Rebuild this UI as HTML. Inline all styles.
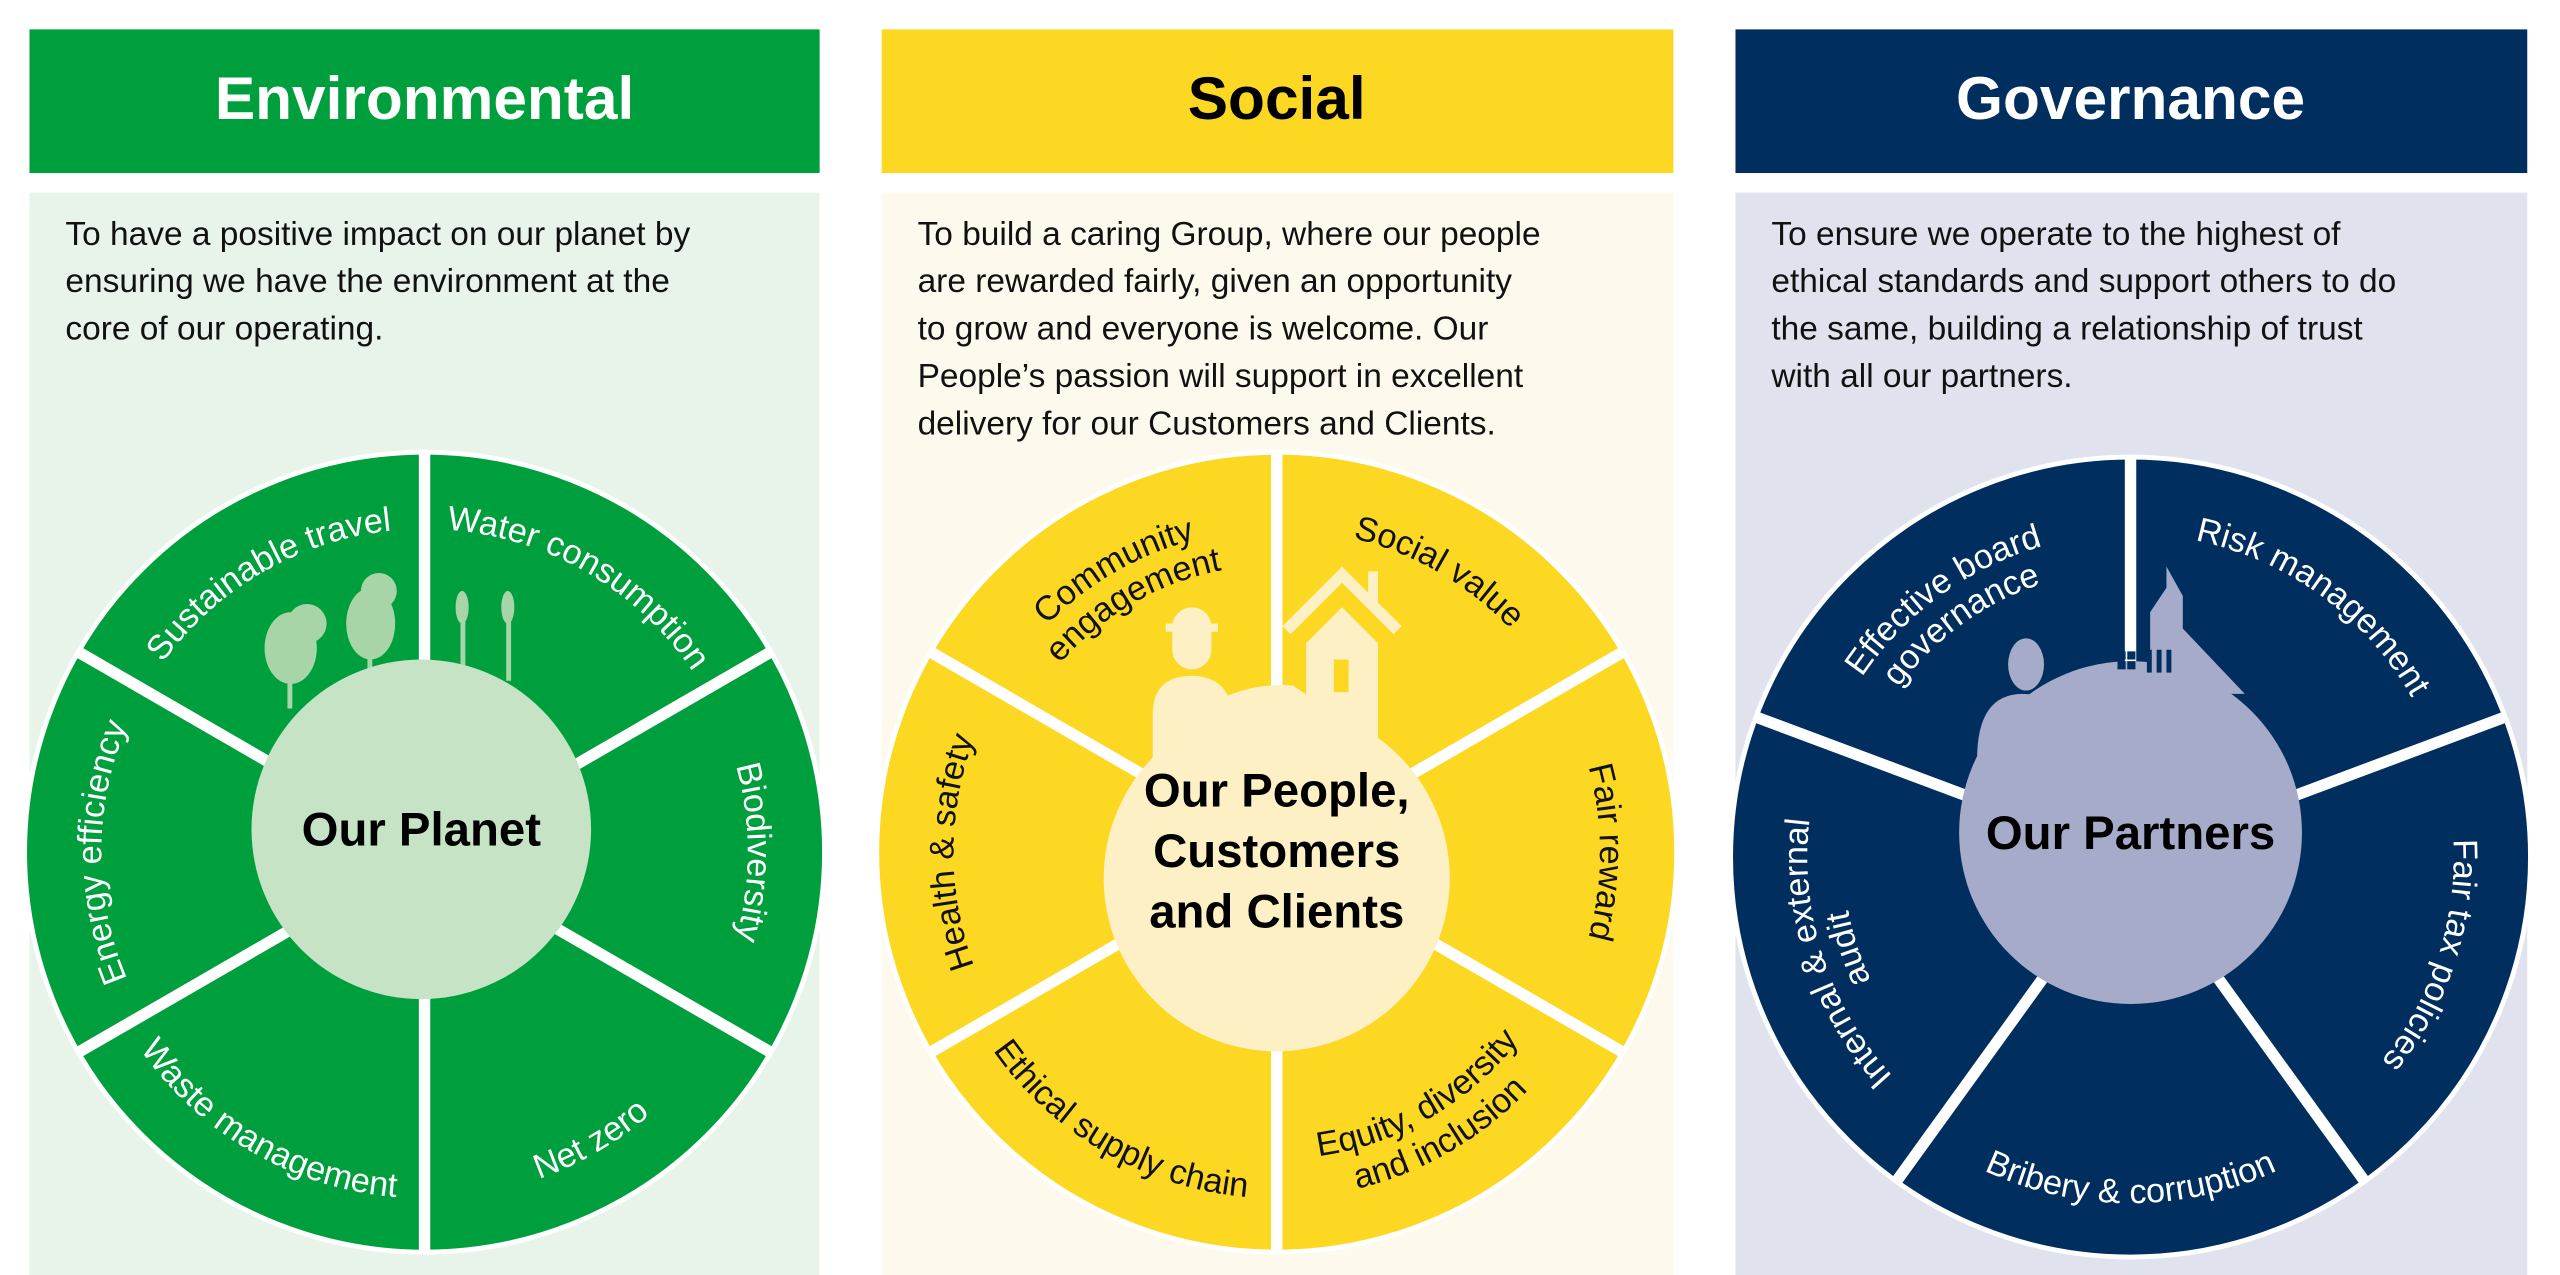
<!DOCTYPE html>
<html><head><meta charset="utf-8"><style>
html,body{margin:0;padding:0;background:#fff;width:2560px;height:1275px;overflow:hidden}
svg{display:block}
text{font-family:"Liberation Sans",sans-serif}
</style></head><body>
<svg width="2560" height="1275" viewBox="0 0 1568 781" xmlns="http://www.w3.org/2000/svg">
<defs>
<path id="cw198" d="M -140 -140 A 198 198 0 0 1 140 -140"/>
<path id="cw176" d="M -124.45 -124.45 A 176 176 0 0 1 124.45 -124.45"/>
<path id="ccw212" d="M -149.9 149.9 A 212 212 0 0 0 149.9 149.9"/>
<path id="ccw188" d="M -132.9 132.9 A 188 188 0 0 0 132.9 132.9"/>
</defs>
<rect x="18" y="18" width="484" height="88" fill="#009f3d"/>
<rect x="540" y="18" width="485" height="88" fill="#fdd823"/>
<rect x="1063" y="18" width="485" height="88" fill="#002e5f"/>
<text x="260" y="73" text-anchor="middle" font-size="37" font-weight="bold" fill="#fff">Environmental</text>
<text x="782" y="73" text-anchor="middle" font-size="37" font-weight="bold" fill="#000">Social</text>
<text x="1305" y="73" text-anchor="middle" font-size="37" font-weight="bold" fill="#fff">Governance</text>
<rect x="18" y="118" width="484" height="663" fill="#e8f3ea"/>
<rect x="540" y="118" width="485" height="663" fill="#fdf9ec"/>
<rect x="1063" y="118" width="485" height="663" fill="#e0e3ee"/>
<g font-size="20.5" fill="#111">
<text x="40" y="150">To have a positive impact on our planet by</text>
<text x="40" y="179">ensuring we have the environment at the</text>
<text x="40" y="208">core of our operating.</text>
<text x="562" y="150">To build a caring Group, where our people</text>
<text x="562" y="179">are rewarded fairly, given an opportunity</text>
<text x="562" y="208">to grow and everyone is welcome. Our</text>
<text x="562" y="237">People’s passion will support in excellent</text>
<text x="562" y="266">delivery for our Customers and Clients.</text>
<text x="1085" y="150">To ensure we operate to the highest of</text>
<text x="1085" y="179">ethical standards and support others to do</text>
<text x="1085" y="208">the same, building a relationship of trust</text>
<text x="1085" y="237">with all our partners.</text>
</g>

<!-- ENV -->
<g transform="translate(260,522)">
<circle r="245" fill="#009f3d" stroke="#fff" stroke-width="3"/>
<g stroke="#fff" stroke-width="7">
<line x1="0" y1="0" x2="0" y2="-244"/>
<line x1="0" y1="0" x2="211" y2="-122"/>
<line x1="0" y1="0" x2="211" y2="122"/>
<line x1="0" y1="0" x2="0" y2="244"/>
<line x1="0" y1="0" x2="-211" y2="122"/>
<line x1="0" y1="0" x2="-211" y2="-122"/>
</g>
<g fill="#a8d5a8">
<ellipse cx="-82" cy="-125" rx="16" ry="22"/><ellipse cx="-72" cy="-140" rx="12" ry="12"/><rect x="-84" y="-110" width="3" height="22"/>
<ellipse cx="-33" cy="-140" rx="15" ry="22"/><ellipse cx="-28" cy="-160" rx="11" ry="11"/><rect x="-35" y="-125" width="3" height="30"/>
<rect x="22" y="-150" width="3" height="45"/><ellipse cx="23" cy="-150" rx="4" ry="10"/>
<rect x="50" y="-150" width="3" height="45"/><ellipse cx="51" cy="-150" rx="4" ry="10"/>
</g>
<g font-size="21" fill="#fff" text-anchor="middle">
<text transform="rotate(-30)"><textPath href="#cw198" startOffset="50%">Sustainable travel</textPath></text>
<text transform="rotate(30)"><textPath href="#cw198" startOffset="50%">Water consumption</textPath></text>
<text transform="rotate(90)"><textPath href="#cw198" startOffset="50%">Biodiversity</textPath></text>
<text transform="rotate(270)"><textPath href="#cw198" startOffset="50%">Energy efficiency</textPath></text>
<text transform="rotate(-30)"><textPath href="#ccw212" startOffset="50%">Net zero</textPath></text>
<text transform="rotate(30)"><textPath href="#ccw212" startOffset="50%">Waste management</textPath></text>
</g>
<circle cx="-2" cy="-14" r="104" fill="#c6e3c6"/>
<text x="-2" y="-4" text-anchor="middle" font-size="29" font-weight="bold" fill="#000">Our Planet</text>
</g>

<!-- SOCIAL -->
<g transform="translate(782,522)">
<circle r="245" fill="#fdd823" stroke="#fff" stroke-width="3"/>
<g stroke="#fff" stroke-width="7">
<line x1="0" y1="0" x2="0" y2="-244"/>
<line x1="0" y1="0" x2="211" y2="-122"/>
<line x1="0" y1="0" x2="211" y2="122"/>
<line x1="0" y1="0" x2="0" y2="244"/>
<line x1="0" y1="0" x2="-211" y2="122"/>
<line x1="0" y1="0" x2="-211" y2="-122"/>
</g>
<g font-size="21" fill="#111" text-anchor="middle">
<text transform="rotate(-30)"><textPath href="#cw198" startOffset="50%">Community</textPath></text>
<text transform="rotate(-30)"><textPath href="#cw176" startOffset="50%">engagement</textPath></text>
<text transform="rotate(30)"><textPath href="#cw198" startOffset="50%">Social value</textPath></text>
<text transform="rotate(90)"><textPath href="#cw198" startOffset="50%">Fair reward</textPath></text>
<text transform="rotate(270)"><textPath href="#cw198" startOffset="50%">Health &amp; safety</textPath></text>
<text transform="rotate(-30)"><textPath href="#ccw188" startOffset="50%">Equity, diversity</textPath></text>
<text transform="rotate(-30)"><textPath href="#ccw212" startOffset="50%">and inclusion</textPath></text>
<text transform="rotate(30)"><textPath href="#ccw212" startOffset="50%">Ethical supply chain</textPath></text>
</g>
<circle cx="0" cy="16" r="106" fill="#fdf0c4"/>
<g fill="#fdf0c4">
<path d="M -64 -138 a 12 12 0 0 1 24 0 v 14 a 12 12 0 0 1 -24 0 z"/>
<rect x="-68" y="-140" width="32" height="5"/>
<path d="M -76 -84 q 0 -24 24 -24 q 16 0 22 12 q 20 -8 40 -6 l 60 40 v 40 h -146 z"/>
<polygon points="18,-128 40,-150 62,-128 62,-70 18,-70"/>
<rect x="56" y="-172" width="6" height="22"/>
</g>
<polyline points="6,-136 40,-170 74,-136" fill="none" stroke="#fdf0c4" stroke-width="7"/>
<rect x="35" y="-118" width="9" height="20" fill="#fdd823"/>
<g font-size="29" font-weight="bold" fill="#000" text-anchor="middle">
<text y="-28">Our People,</text><text y="9">Customers</text><text y="46">and Clients</text>
</g>
</g>

<!-- GOV -->
<g transform="translate(1305,525)">
<circle r="245" fill="#002e5f" stroke="#fff" stroke-width="3"/>
<g stroke="#fff" stroke-width="7">
<line x1="0" y1="0" x2="0" y2="-244"/>
<line x1="0" y1="0" x2="230" y2="-86"/>
<line x1="0" y1="0" x2="143" y2="198"/>
<line x1="0" y1="0" x2="-143" y2="198"/>
<line x1="0" y1="0" x2="-230" y2="-86"/>
</g>
<g font-size="21" fill="#fff" text-anchor="middle">
<text transform="rotate(36)"><textPath href="#cw198" startOffset="50%">Risk management</textPath></text>
<text transform="rotate(108)"><textPath href="#cw198" startOffset="50%">Fair tax policies</textPath></text>
<text><textPath href="#ccw212" startOffset="50%">Bribery &amp; corruption</textPath></text>
<text transform="rotate(252)"><textPath href="#cw198" startOffset="50%">Internal &amp; external</textPath></text>
<text transform="rotate(252)"><textPath href="#cw176" startOffset="50%">audit</textPath></text>
<text transform="rotate(-36)"><textPath href="#cw198" startOffset="50%">Effective board</textPath></text>
<text transform="rotate(-36)"><textPath href="#cw176" startOffset="50%">governance</textPath></text>
</g>
<circle cx="0" cy="-15" r="105" fill="#a5abc8"/>
<g fill="#a5abc8">
<path d="M 12 -100 L 12 -150 L 22 -165 L 22 -178 L 32 -160 L 32 -140 L 70 -100 Z"/>
<path d="M -20 -100 L -20 -118 L 12 -118 L 12 -100 Z"/>
<ellipse cx="-64" cy="-118" rx="11" ry="16"/>
<path d="M -94 -60 q 0 -40 28 -40 q 22 0 28 30 z"/>
</g>
<g fill="#002e5f"><rect x="-8" y="-126" width="5" height="5"/><rect x="-2" y="-126" width="5" height="5"/><rect x="-8" y="-120" width="5" height="5"/><rect x="-2" y="-120" width="5" height="5"/><rect x="10" y="-127" width="3" height="14"/><rect x="16" y="-127" width="3" height="14"/><rect x="22" y="-127" width="3" height="14"/></g>
<text x="0" y="-5" text-anchor="middle" font-size="29" font-weight="bold" fill="#000">Our Partners</text>
</g>
</svg>
</body></html>
